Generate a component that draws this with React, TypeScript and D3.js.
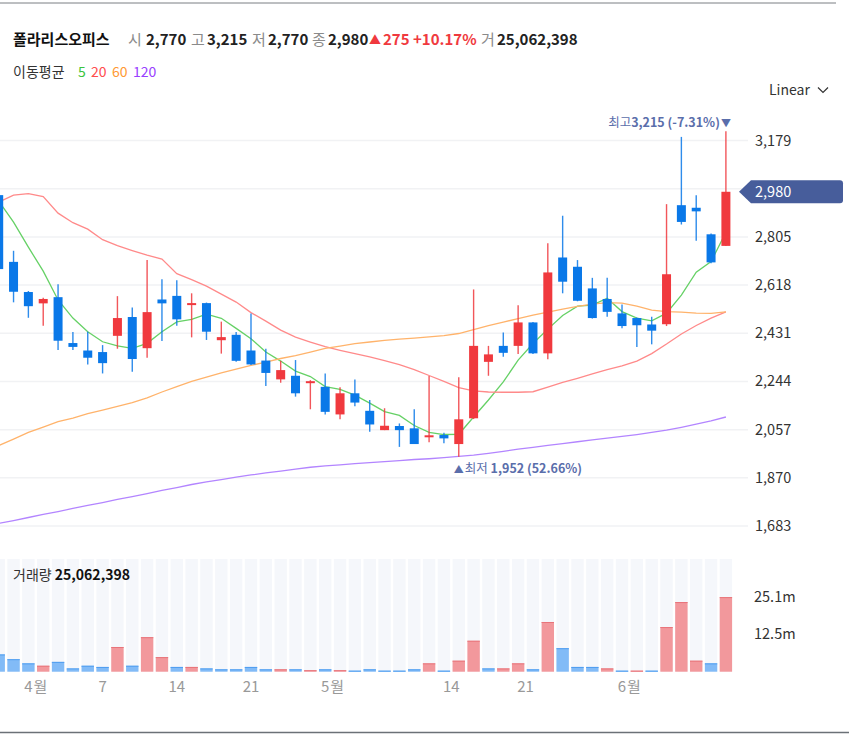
import React from 'react';
import * as d3 from 'd3';

const FONT = "'Noto Sans CJK KR', 'Noto Sans', sans-serif";

// daily candles (oldest first), KRW
const opens = [2967, 2708, 2591, 2547, 2571, 2393, 2364, 2358, 2421, 2494, 2373, 2562, 2576, 2544, 2548, 2404, 2425, 2364, 2325, 2252, 2266, 2242, 2223, 2116, 2198, 2130, 2055, 2071, 2062, 2032, 2036, 2001, 2101, 2320, 2382, 2382, 2473, 2353, 2725, 2689, 2605, 2564, 2508, 2490, 2465, 2466, 2928, 2918, 2815, 2770];
const highs = [2975, 2751, 2595, 2569, 2621, 2436, 2437, 2385, 2575, 2531, 2715, 2641, 2637, 2586, 2550, 2476, 2436, 2508, 2371, 2324, 2327, 2249, 2275, 2221, 2252, 2172, 2140, 2081, 2136, 2265, 2045, 2260, 2601, 2382, 2434, 2540, 2475, 2780, 2887, 2715, 2646, 2646, 2543, 2492, 2495, 2932, 3193, 2967, 2818, 3215];
const lows = [2610, 2551, 2491, 2460, 2366, 2366, 2310, 2275, 2371, 2282, 2336, 2401, 2460, 2415, 2405, 2352, 2320, 2308, 2226, 2239, 2185, 2136, 2116, 2097, 2148, 2049, 2055, 1990, 2001, 2008, 2004, 1952, 2098, 2266, 2340, 2350, 2350, 2330, 2586, 2555, 2488, 2495, 2450, 2378, 2388, 2459, 2853, 2790, 2703, 2770];
const closes = [2680, 2592, 2536, 2564, 2402, 2378, 2336, 2315, 2490, 2331, 2513, 2547, 2485, 2548, 2437, 2416, 2324, 2310, 2277, 2288, 2198, 2245, 2126, 2198, 2162, 2077, 2072, 2055, 2001, 2035, 2023, 2097, 2382, 2349, 2355, 2473, 2353, 2667, 2631, 2557, 2490, 2514, 2459, 2462, 2441, 2660, 2863, 2904, 2706, 2980];
// volume, millions of shares
const volumes = [5.8, 4.2, 2.8, 2.0, 3.3, 1.1, 2.0, 1.6, 8.3, 2.0, 11.6, 4.9, 1.6, 1.6, 1.1, 0.8, 0.8, 1.6, 0.8, 0.8, 0.8, 0.5, 0.8, 0.5, 0.35, 0.8, 0.35, 0.35, 0.8, 2.8, 0.35, 3.7, 10.4, 1.1, 1.1, 2.8, 0.8, 16.7, 7.9, 1.6, 1.6, 1.1, 0.35, 0.35, 0.35, 15.0, 23.4, 3.7, 2.8, 25.06];

// moving averages as drawn
const ma5 = [2944, 2862, 2765, 2672, 2560, 2490, 2437, 2398, 2382, 2372, 2392, 2437, 2475, 2485, 2505, 2489, 2450, 2410, 2358, 2323, 2284, 2263, 2224, 2213, 2191, 2160, 2127, 2112, 2073, 2046, 2038, 2039, 2106, 2172, 2242, 2327, 2391, 2447, 2500, 2536, 2540, 2567, 2515, 2490, 2479, 2509, 2579, 2668, 2709, 2823];
const ma20 = [2940, 2967, 2973, 2961, 2897, 2860, 2835, 2794, 2771, 2752, 2734, 2719, 2662, 2639, 2614, 2583, 2552, 2511, 2478, 2443, 2416, 2397, 2379, 2365, 2352, 2339, 2325, 2309, 2290, 2267, 2244, 2220, 2207, 2203, 2202, 2202, 2204, 2222, 2240, 2256, 2273, 2290, 2304, 2323, 2352, 2389, 2428, 2461, 2490, 2514];
const ma60 = [1995, 2020, 2046, 2067, 2088, 2102, 2119, 2133, 2147, 2162, 2180, 2203, 2224, 2244, 2261, 2277, 2292, 2306, 2319, 2333, 2344, 2358, 2372, 2381, 2391, 2397, 2403, 2408, 2412, 2417, 2422, 2430, 2445, 2461, 2474, 2488, 2501, 2513, 2525, 2535, 2544, 2550, 2548, 2536, 2521, 2515, 2513, 2509, 2508, 2514];
const ma120 = [1693, 1704, 1716, 1728, 1739, 1751, 1763, 1774, 1786, 1797, 1809, 1821, 1832, 1844, 1854, 1863, 1873, 1881, 1889, 1896, 1904, 1911, 1916, 1920, 1925, 1929, 1933, 1937, 1941, 1944, 1948, 1953, 1958, 1965, 1973, 1981, 1988, 1996, 2003, 2010, 2017, 2024, 2031, 2038, 2046, 2055, 2066, 2078, 2091, 2106];

const maNames = ['5', '20', '60', '120'];
const maLegendColors = ['#3cc43c', '#ff4d4d', '#ff9933', '#9940ff'];
const maLineColors = ['#66d166', '#ff8a8a', '#ffb36b', '#b385ff'];

const priceTicks = [1683, 1870, 2057, 2244, 2431, 2618, 2805, 2992, 3179];
const volumeTicks = [12.5, 25.1];
const xTickIndex = [2, 7, 12, 17, 22, 30.5, 35.5, 42];
const xTickLabels = ['4월', '7', '14', '21', '5월', '14', '21', '6월'];

const quoteLabels = ['시', '고', '저', '종'];
const quoteValues = ['2,770', '3,215', '2,770', '2,980'];
const change = 275;
const changePct = '+10.17%';
const totalVolume = '25,062,398';
const hiPct = '(-7.31%)';
const loPct = '(52.66%)';

const RED = '#f0393e';
const BLUE = '#0a78e8';

const fmt = d3.format(',');

export default function App() {
  const n = closes.length;
  const x = d3.scaleLinear().domain([0, n - 1]).range([-1.3, 725.9]);
  const y = d3.scaleLinear().domain([1683, 3179]).range([526, 140.5]);
  const yv = d3.scaleLinear().domain([0, 25.1]).range([671.7, 597]);

  const line = d3.line<number>().x((_, i) => x(i)).y(d => y(d));
  const mas = [ma5, ma20, ma60, ma120];

  const last = n - 1;
  const hiIdx = highs.indexOf(d3.max(highs));
  const loIdx = lows.indexOf(d3.min(lows));
  const hi = highs[hiIdx];
  const lo = lows[loIdx];
  const lastClose = closes[last];
  const ty = y(lastClose);

  const quoteX = [128, 191, 252, 312];
  const valueX = [146, 207, 268, 328];

  return (
    <div style={{ position: 'absolute', left: 0, top: 0 }}>
      <svg width={849} height={741} style={{ display: 'block', fontFamily: FONT }}>
        <defs>
          <clipPath id="plot">
            <rect x={0} y={95} width={740} height={455} />
          </clipPath>
          <clipPath id="vol">
            <rect x={0} y={555} width={740} height={120} />
          </clipPath>
        </defs>
        <rect width={849} height={741} fill="#fff" />
        <line x1={0} x2={836} y1={3} y2={3} stroke="#7a7e83" strokeWidth={1} />

        {/* header */}
        <text x={13} y={45} fontSize={15} fontWeight={700} fill="#111">폴라리스오피스</text>
        {quoteLabels.map((l, i) => (
          <g key={l}>
            <text x={quoteX[i]} y={45} fontSize={15} fill="#8a8a8a">{l}</text>
            <text x={valueX[i]} y={45} fontSize={15} fontWeight={700} fill="#222">{quoteValues[i]}</text>
          </g>
        ))}
        <text x={369} y={45} fontSize={15} fontWeight={700} fill={RED}>
          <tspan fontSize={12}>▲</tspan>
          <tspan x={383}>{fmt(change)}</tspan>
          <tspan x={413}>{changePct}</tspan>
        </text>
        <text x={481} y={45} fontSize={15} fill="#8a8a8a">거</text>
        <text x={497} y={45} fontSize={15} fontWeight={700} fill="#222">{totalVolume}</text>

        <text x={13} y={77} fontSize={14} fill="#333">이동평균</text>
        {maNames.map((m, i) => (
          <text key={m} x={[78, 91, 112, 133][i]} y={77} fontSize={14} fill={maLegendColors[i]}>{m}</text>
        ))}

        <text x={769} y={95} fontSize={14} fill="#333">Linear</text>
        <path d="M818,87.5 l5,5 l5,-5" fill="none" stroke="#333" strokeWidth={1.2} />

        {/* grid */}
        {priceTicks.map(t => (
          <line key={t} x1={0} x2={748} y1={y(t)} y2={y(t)} stroke="#f1f2f4" strokeWidth={1.5} />
        ))}

        {/* candles + MAs */}
        <g clipPath="url(#plot)">
          {mas.map((m, k) => (
            <path key={k} d={line(m) || ''} fill="none" stroke={maLineColors[k]} strokeWidth={1.3} />
          ))}
          {closes.map((c, i) => {
            const o = opens[i];
            const up = c >= o;
            const col = up ? RED : BLUE;
            const top = y(Math.max(o, c));
            const bot = y(Math.min(o, c));
            return (
              <g key={i}>
                <line x1={x(i)} x2={x(i)} y1={y(highs[i])} y2={y(lows[i])} stroke={col} strokeWidth={1.4} opacity={0.85} />
                <rect x={x(i) - 4.5} y={top} width={9} height={Math.max(bot - top, 2)} fill={col} />
              </g>
            );
          })}
        </g>

        {/* high / low markers */}
        <text x={x(hiIdx) - 6} y={y(hi) - 4} fontSize={12.5} fill="#5a6eab" textAnchor="end">
          <tspan>최고</tspan>
          <tspan fontWeight={700}>{fmt(hi)} {hiPct}</tspan>
        </text>
        <text x={x(hiIdx)} y={y(hi) - 4} fontSize={10} fill="#5a6eab" textAnchor="middle">▼</text>
        <text x={x(loIdx)} y={y(lo) + 16} fontSize={10} fill="#5a6eab" textAnchor="middle">▲</text>
        <text x={x(loIdx) + 6} y={y(lo) + 16} fontSize={12.5} fill="#5a6eab">
          <tspan>최저 </tspan>
          <tspan fontWeight={700}>{fmt(lo)} {loPct}</tspan>
        </text>

        {/* price axis; the tick under the last-price tag is hidden by it */}
        {priceTicks.filter(t => Math.abs(y(t) - ty) > 14).map(t => (
          <text key={t} x={755} y={y(t) + 5} fontSize={14.5} fill="#333">{fmt(t)}</text>
        ))}
        <path
          d={`M739,${ty} L751,${ty - 11.5} H840 Q843,${ty - 11.5} 843,${ty - 8.5} V${ty + 8.5} Q843,${ty + 11.5} 840,${ty + 11.5} H751 Z`}
          fill="#475d9b"
        />
        <text x={755} y={ty + 5} fontSize={14.5} fill="#fff">{fmt(lastClose)}</text>

        {/* volume */}
        <g clipPath="url(#vol)">
          {volumes.map((_, i) => (
            <rect key={i} x={x(i) - 6.2} y={559} width={12.4} height={671.7 - 559} fill="#f5f7fb" />
          ))}
          {volumes.map((v, i) => {
            const up = i === 0 ? closes[0] >= opens[0] : closes[i] >= closes[i - 1];
            const fill = up ? '#f2989c' : '#82bbf7';
            const edge = up ? '#e8747a' : '#4f9ef0';
            return (
              <g key={i}>
                <rect x={x(i) - 6.2} y={yv(v)} width={12.4} height={671.7 - yv(v)} fill={fill} />
                <line x1={x(i) - 6.2} x2={x(i) + 6.2} y1={yv(v) + 0.5} y2={yv(v) + 0.5} stroke={edge} />
              </g>
            );
          })}
        </g>
        <text x={13} y={580} fontSize={14} fill="#333">
          <tspan>거래량 </tspan>
          <tspan fontWeight={700} fill="#111">{totalVolume}</tspan>
        </text>
        {volumeTicks.map(t => (
          <text key={t} x={754} y={yv(t) + 5} fontSize={14.5} fill="#333">{t}m</text>
        ))}

        {/* x axis */}
        {xTickIndex.map((idx, i) => {
          const lab = xTickLabels[i];
          const px = x(idx);
          if (lab.endsWith('월')) {
            const num = lab.slice(0, -1);
            return (
              <g key={i}>
                <text x={px} y={692} fontSize={15} fill="#999" textAnchor="middle">{num}</text>
                <text x={px + 5} y={692} fontSize={15} fill="#999">월</text>
              </g>
            );
          }
          return <text key={i} x={px} y={692} fontSize={15} fill="#999" textAnchor="middle">{lab}</text>;
        })}

        <line x1={0} x2={849} y1={732.5} y2={732.5} stroke="#6b7177" strokeWidth={1.5} />
      </svg>
    </div>
  );
}
